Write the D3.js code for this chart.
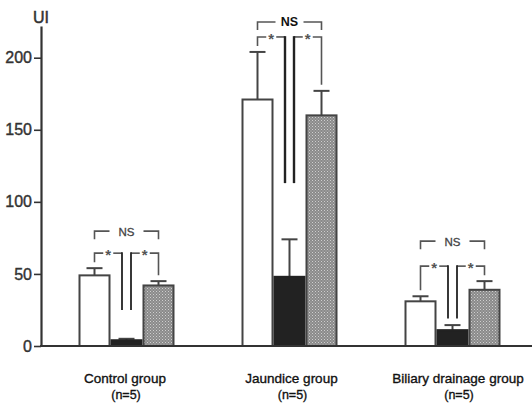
<!DOCTYPE html>
<html>
<head>
<meta charset="utf-8">
<script src="https://cdn.jsdelivr.net/npm/d3@7"></script>
<style>
  html, body { margin: 0; padding: 0; background: #fff; }
  svg { display: block; font-family: "Liberation Sans", Arial, sans-serif; }
</style>
</head>
<body>
<svg id="chart" width="532" height="403"></svg>
<script>
// Groups and measured values (UI), mean and error (SD)
const groups = ["Control group", "Jaundice group", "Biliary drainage group"];
const groupN = ["(n=5)", "(n=5)", "(n=5)"];
const seriesKeys = ["open", "solid", "hatched"];
const openMean = [49, 171, 31];
const openErr = [5, 33, 3.5];
const solidMean = [4, 48, 11];
const solidErr = [1, 26, 3.5];
const hatchedMean = [42, 160, 39];
const hatchedErr = [3, 17, 6];
const yTicks = [0, 50, 100, 150, 200];

// Significance annotations per group: outer bracket label, pair labels
const outerLabel = ["NS", "NS", "NS"];
const pairLabel = ["*", "*", "*"];
// Level (UI) the inner bracket legs drop to, over the middle bar
const innerDrop = [25, 113, 19];
// Vertical spacing between the pair brackets and the outer bracket (px)
const outerGap = [22, 15, 25];

const svg = d3.select("#chart");

const y = d3.scaleLinear().domain([0, 222]).range([346, 26]);
const xGroup = d3.scalePoint().domain(groups).range([126.5, 452.5]);
const xLabel = d3.scalePoint().domain(groups).range([125, 458]);
const xBar = d3.scaleBand().domain(seriesKeys).range([-48, 48]).paddingInner(0);

// Stippled grey fill
const defs = svg.append("defs");
const pat = defs.append("pattern")
  .attr("id", "stipple").attr("width", 3).attr("height", 3)
  .attr("patternUnits", "userSpaceOnUse");
pat.append("rect").attr("width", 3).attr("height", 3).attr("fill", "#8a8a8a");
pat.append("rect").attr("x", 0).attr("y", 0).attr("width", 1).attr("height", 1).attr("fill", "#cfcfcf");
pat.append("rect").attr("x", 1.5).attr("y", 1.5).attr("width", 1).attr("height", 1).attr("fill", "#bdbdbd");

const bars = [];
groups.forEach((g, i) => {
  bars.push({ g, i, key: "open", v: openMean[i], e: openErr[i] });
  bars.push({ g, i, key: "solid", v: solidMean[i], e: solidErr[i] });
  bars.push({ g, i, key: "hatched", v: hatchedMean[i], e: hatchedErr[i] });
});
const barX = d => xGroup(d.g) + xBar(d.key);
const barCx = d => barX(d) + xBar.bandwidth() / 2;

// Error bars (drawn first so bar outlines sit on top)
const err = svg.append("g").attr("stroke", "#444").attr("stroke-width", 2).attr("fill", "none");
err.selectAll("line.stem").data(bars).join("line")
  .attr("x1", barCx).attr("x2", barCx)
  .attr("y1", d => y(d.v)).attr("y2", d => y(d.v + d.e));
err.selectAll("line.cap").data(bars).join("line")
  .attr("x1", d => barCx(d) - 8).attr("x2", d => barCx(d) + 8)
  .attr("y1", d => y(d.v + d.e)).attr("y2", d => y(d.v + d.e));

// Bars
svg.append("g").selectAll("rect").data(bars).join("rect")
  .attr("x", d => barX(d) + 1)
  .attr("width", xBar.bandwidth() - 2)
  .attr("y", d => y(d.v))
  .attr("height", d => y(0) - y(d.v))
  .attr("fill", d => d.key === "open" ? "#fff" : d.key === "solid" ? "#222" : "url(#stipple)")
  .attr("stroke", d => d.key === "solid" ? "#222" : "#444")
  .attr("stroke-width", 2);

// Axes
const yAxis = svg.append("g").attr("transform", `translate(41,0)`)
  .call(d3.axisLeft(y).tickValues(yTicks).tickSize(7).tickSizeOuter(0).tickPadding(2));
yAxis.select(".domain").attr("stroke", "#333").attr("stroke-width", 2.2);
yAxis.selectAll(".tick line").attr("stroke", "#333").attr("stroke-width", 1.6);
yAxis.selectAll(".tick text").attr("font-size", 16).attr("fill", "#333")
  .attr("stroke", "#333").attr("stroke-width", 0.4)
  .attr("font-family", "'Liberation Sans', Arial, sans-serif");

svg.append("line")
  .attr("x1", 40).attr("x2", 532).attr("y1", y(0)).attr("y2", y(0))
  .attr("stroke", "#333").attr("stroke-width", 2);

svg.append("text").attr("x", 41).attr("y", 23).attr("text-anchor", "middle")
  .attr("font-size", 16).attr("fill", "#333").attr("stroke", "#333").attr("stroke-width", 0.5)
  .text("UI");

// Group labels
const labels = svg.append("g").attr("fill", "#111").attr("text-anchor", "middle")
  .attr("stroke", "#111").attr("stroke-width", 0.35);
labels.selectAll("text.name").data(groups).join("text")
  .attr("x", d => xLabel(d)).attr("y", 383).attr("font-size", 13.5).text(d => d);
labels.selectAll("text.n").data(groups).join("text")
  .attr("x", d => xLabel(d) + 1).attr("y", 399).attr("font-size", 12.5)
  .text((d, i) => groupN[i]);

// Significance brackets
const br = svg.append("g").attr("fill", "none").attr("stroke", "#555").attr("stroke-width", 1.6);
const txt = svg.append("g").attr("fill", "#222").attr("text-anchor", "middle");

groups.forEach((g, i) => {
  const xa = xGroup(g) + xBar("open") + xBar.bandwidth() / 2;
  const xm = xGroup(g) + xBar("solid") + xBar.bandwidth() / 2;
  const xc = xGroup(g) + xBar("hatched") + xBar.bandwidth() / 2;
  const topA = y(openMean[i] + openErr[i]);
  const topC = y(hatchedMean[i] + hatchedErr[i]);
  const starY = Math.min(topA, topC) - 15;
  const nsY = starY - outerGap[i];
  const dropY = y(innerDrop[i]);
  const xl = xm - 4.5, xr = xm + 4.5;

  // outer (NS) bracket with a gap for its label
  const nsHalf = i === 1 ? 14 : 17;
  const cx = (xa + xc) / 2;
  br.append("path").attr("d", `M${xa},${nsY + 8}V${nsY}H${cx - nsHalf}`);
  br.append("path").attr("d", `M${cx + nsHalf},${nsY}H${xc}V${nsY + 8}`);
  txt.append("text").attr("x", cx).attr("y", nsY + 4.5)
    .attr("font-size", i === 1 ? 12.5 : 11.5)
    .attr("font-weight", i === 1 ? "bold" : "normal")
    .attr("fill", i === 1 ? "#111" : "#444")
    .attr("stroke", i === 1 ? "none" : "#444").attr("stroke-width", 0.3)
    .text(outerLabel[i]);

  // left pair bracket
  const lc = (xa + xl) / 2;
  br.append("path").attr("d", `M${xa},${topA - 6}V${starY}H${lc - 5}`);
  br.append("path").attr("d", `M${lc + 5},${starY}H${xl}`);
  // right pair bracket
  const rc = (xr + xc) / 2;
  br.append("path").attr("d", `M${xr},${starY}H${rc - 5}`);
  br.append("path").attr("d", `M${rc + 5},${starY}H${xc}V${topC - 6}`);

  // inner legs dropping towards the middle bar
  svg.append("g").attr("stroke", "#222").attr("stroke-width", i === 1 ? 2.4 : 1.8)
    .selectAll("line").data([xl, xr]).join("line")
    .attr("x1", d => d).attr("x2", d => d)
    .attr("y1", starY - 0.8).attr("y2", dropY);

  [lc, rc].forEach(sx => {
    txt.append("text").attr("x", sx).attr("y", starY + 7)
      .attr("font-size", 15).attr("font-weight", "bold").attr("fill", "#555")
      .text(pairLabel[i]);
  });
});
</script>
</body>
</html>
